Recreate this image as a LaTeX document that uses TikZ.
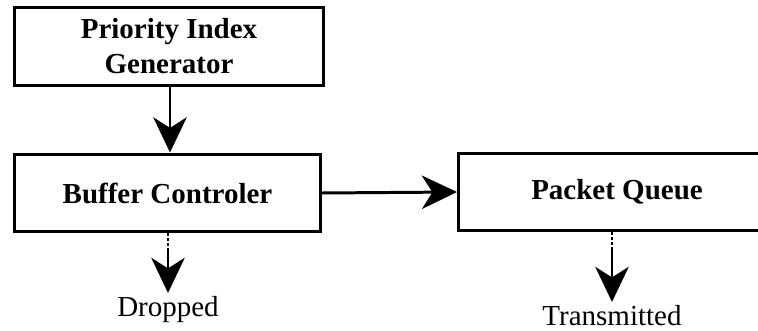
\documentclass[tikz,border=0pt]{standalone}
\usepackage{fontspec}
\setmainfont{Liberation Serif}
\usetikzlibrary{arrows.meta}

\begin{document}
\begin{tikzpicture}[x=0.02cm, y=-0.02cm,
        block/.style={draw, line width=1.7pt, inner sep=0pt, minimum height=1.56cm,
            align=center, font=\fontsize{16.5}{20}\selectfont\bfseries},
        outlabel/.style={inner sep=2pt, font=\fontsize{16.5}{20}\selectfont},
        arr/.style={line width=1.7pt, -{Stealth[length=20pt, width=19pt, inset=6pt]}},
        fade/.style={line width=1.7pt, densely dotted}]
    \useasboundingbox (0,0) rectangle (758,331);
    \clip (0,0) rectangle (758,331);

    \node[block, minimum width=6.18cm] (gen) at (169,46.5) {Priority Index\\Generator};
    \node[block, minimum width=6.12cm] (ctrl) at (167.5,193) {Buffer Controler};
    \node[block, minimum width=6.34cm] (queue) at (617,192) {Packet Queue};

    \node[outlabel, anchor=north] (dropped) at (168,293) {Dropped};
    \node[outlabel, anchor=north] (sent) at (612,302) {Transmitted};

    \draw[arr] (gen.south -| 170,0) -- (ctrl.north -| 170,0);
    \draw[arr] (ctrl.east) -- (queue.west);

    \draw[fade] (dropped |- ctrl.south) -- ++(0,18) coordinate (ctrlout);
    \draw[arr] (ctrlout) -- (dropped.north);
    \draw[fade] (sent |- queue.south) -- ++(0,18) coordinate (queueout);
    \draw[arr] (queueout) -- (sent.north);
\end{tikzpicture}
\end{document}
